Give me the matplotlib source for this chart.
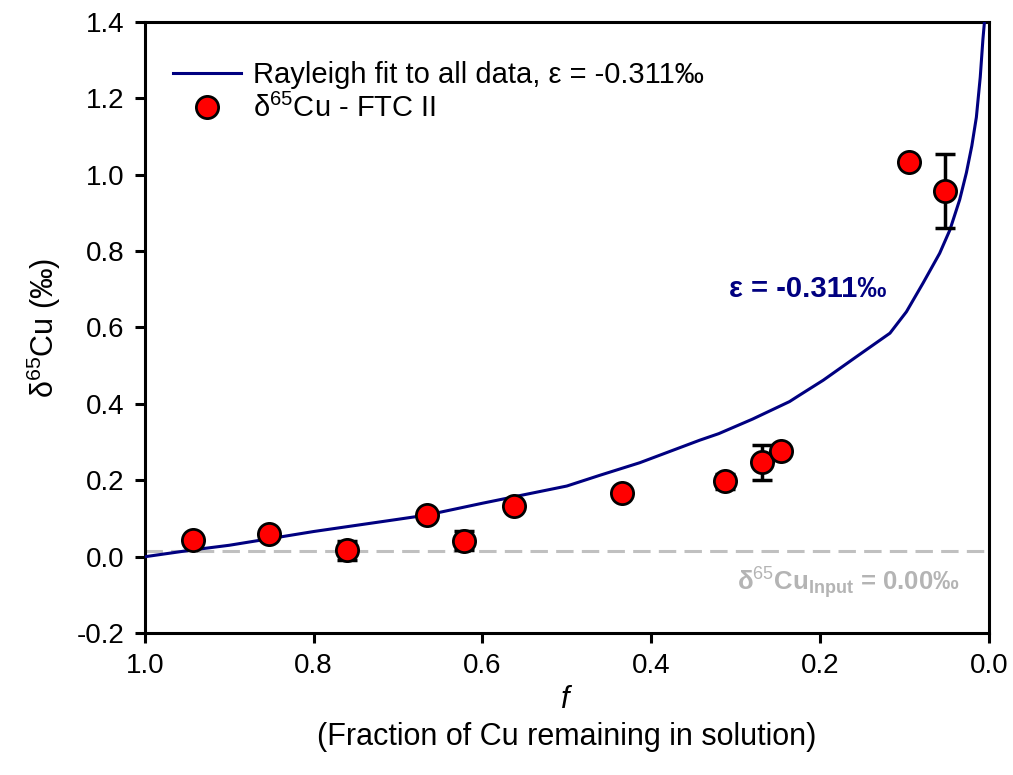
import matplotlib.pyplot as plt

plt.rcParams['font.family'] = ['Liberation Sans', 'DejaVu Sans']
plt.rcParams['mathtext.fontset'] = 'custom'
plt.rcParams['mathtext.rm'] = 'Liberation Sans'
plt.rcParams['mathtext.it'] = 'Liberation Sans:italic'
plt.rcParams['mathtext.bf'] = 'Liberation Sans:bold'

# measured d65Cu (FTC II) vs fraction remaining
f_data = [0.943, 0.853, 0.761, 0.666, 0.622, 0.562, 0.434, 0.312, 0.269, 0.246, 0.095, 0.052]
d65_data = [0.045, 0.060, 0.017, 0.110, 0.042, 0.132, 0.168, 0.197, 0.247, 0.277, 1.033, 0.957]
d65_err = [0.0, 0.0, 0.025, 0.0, 0.025, 0.0, 0.0, 0.02, 0.045, 0.0, 0.0, 0.098]

# Rayleigh fit curve
f_fit = [1.0, 0.943, 0.9, 0.8, 0.7, 0.666, 0.6, 0.56, 0.5, 0.461, 0.4135, 0.3424, 0.32, 0.28,
         0.236, 0.224, 0.196, 0.157, 0.117, 0.0975, 0.0778, 0.0581, 0.046, 0.0344,
         0.0264, 0.02, 0.0146, 0.01, 0.0068, 0.005]
d65_fit = [0.0, 0.018, 0.03, 0.066, 0.098, 0.109, 0.14, 0.158, 0.185, 0.213, 0.246, 0.305, 0.322, 0.36,
           0.406, 0.423, 0.462, 0.523, 0.585, 0.641, 0.716, 0.794, 0.855, 0.934,
           1.005, 1.075, 1.15, 1.255, 1.355, 1.40]

input_level = 0.015

fig = plt.figure(figsize=(10.13, 7.75), dpi=100)
ax = fig.add_axes([0.143, 0.183, 0.833, 0.789])

ax.plot(f_fit, d65_fit, color='#000080', lw=2.2, label='Rayleigh fit to all data, ε = -0.311‰', zorder=3)
ax.axhline(input_level, color='#c0c0c0', lw=2.2, ls=(0, (5.7, 2.7)), zorder=1)

for fx, dy, e in zip(f_data, d65_data, d65_err):
    if e > 0:
        ax.errorbar(fx, dy, yerr=e, fmt='none', ecolor='black', elinewidth=2.5,
                    capsize=7, capthick=2.5, zorder=4)
ax.plot(f_data, d65_data, 'o', ms=16, mfc='#ff0000', mec='black', mew=2,
        ls='none', label='δ$^{65}$Cu - FTC II', zorder=5)

ax.text(0.215, 0.70, 'ε = -0.311‰', color='#000080', fontsize=21, fontweight='bold',
        ha='center', va='center')
ax.text(0.034, -0.07, 'δ$^{65}$Cu$_{\\mathbf{Input}}$ = 0.00‰', color='#b4b4b4',
        fontsize=18.5, fontweight='bold', ha='right', va='center')

ax.set_xlim(1.0, 0.0)
ax.set_ylim(-0.2, 1.4)
ax.set_xticks([1.0, 0.8, 0.6, 0.4, 0.2, 0.0])
ax.set_yticks([-0.2, 0.0, 0.2, 0.4, 0.6, 0.8, 1.0, 1.2, 1.4])
ax.set_xticklabels(['1.0', '0.8', '0.6', '0.4', '0.2', '0.0'])
ax.set_yticklabels(['-0.2', '0.0', '0.2', '0.4', '0.6', '0.8', '1.0', '1.2', '1.4'])
ax.tick_params(direction='out', length=7.5, width=2.2, labelsize=20, top=False, right=False, pad=7)
for sp in ax.spines.values():
    sp.set_linewidth(2.2)

ax.set_ylabel('δ$^{65}$Cu (‰)', fontsize=22, labelpad=10)
ax.set_xlabel('$f$\n(Fraction of Cu remaining in solution)', fontsize=22, labelpad=4, linespacing=1.3)

ax.legend(loc='upper left', frameon=False, fontsize=21, handlelength=2.35,
          bbox_to_anchor=(0.019, 0.954), borderaxespad=0, labelspacing=0.15, handletextpad=0.42)

fig.savefig('out.png', dpi=100)
